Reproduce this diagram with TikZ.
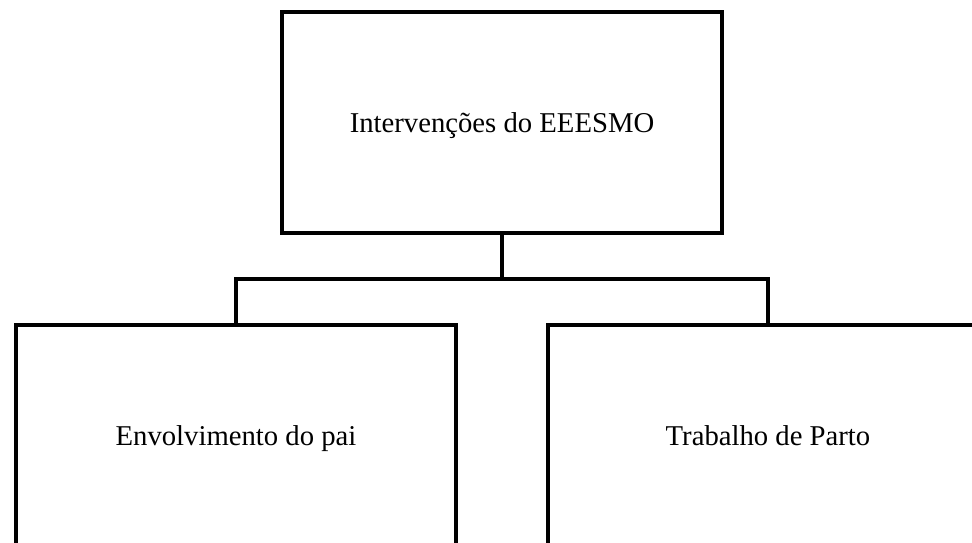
\documentclass[tikz,border=0pt]{standalone}
\usepackage{fontspec}
\setmainfont{Liberation Serif}
\begin{document}
\begin{tikzpicture}[x=1pt,y=-1pt,
  caixa/.style={draw,line width=4.5pt,minimum width=440pt,minimum height=221pt,
    inner sep=0pt,text height=19.5pt,text depth=0pt,font=\fontsize{28.7}{34}\selectfont},
  liga/.style={line width=4.5pt}]
  \useasboundingbox (0,0) rectangle (972,542);
  \clip (0,0) rectangle (972,542);

  \node[caixa] (eeesmo) at (502,122.5) {Intervenções do EEESMO};
  \node[caixa] (pai) at (236,435.5) {Envolvimento do pai};
  \node[caixa] (parto) at (768,435.5) {Trabalho de Parto};

  \coordinate (ramo) at (502,279);
  \draw[liga] (eeesmo.south) -- (ramo);
  \draw[liga] (pai.north) |- (ramo) -| (parto.north);
\end{tikzpicture}
\end{document}
